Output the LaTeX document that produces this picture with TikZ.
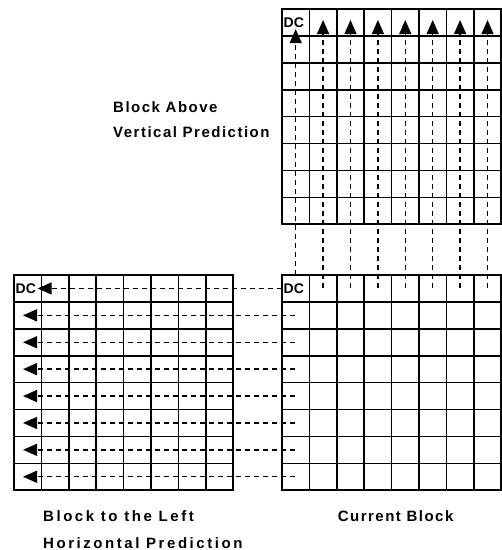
\documentclass[tikz,border=0pt]{standalone}
\usepackage{fontspec}
\setmainfont{Liberation Sans}
\newfontfamily\capfont{Liberation Sans}[LetterSpace=10]
\newfontfamily\widecapfont{Liberation Sans}[LetterSpace=17]
\usetikzlibrary{arrows.meta,calc,positioning}
\definecolor{InkBlack}{RGB}{0,0,0}

\begin{document}
\begin{tikzpicture}[x=1pt,y=-1pt,>={Triangle[length=14pt,width=12pt]},
  blockbox/.style={draw=InkBlack,line width=2pt,inner sep=0pt,outer sep=0pt,
    minimum width=219.2pt,minimum height=215.2pt,anchor=north west},
  cellline/.style={draw=InkBlack,line width=1.6pt},
  predline/.style={->,InkBlack,line width=1.4pt,dash pattern=on 5pt off 4pt},
  dclabel/.style={font=\bfseries\fontsize{14}{14}\selectfont,inner sep=1.5pt,anchor=west},
  caption/.style={font=\capfont\bfseries\fontsize{15}{25}\selectfont,align=left,inner sep=0pt}]
  \useasboundingbox (0,0) rectangle (502,550);
  % the three 8x8 blocks
  \foreach \bx/\by/\bn in {282/9/above,282/275/cur,14/275/left}{
    \node[blockbox] (\bn) at (\bx,\by) {};
    \foreach \i in {1,...,7}{
      \draw[cellline] ($(\bn.north west)+(\i*27.4,0)$) -- ($(\bn.south west)+(\i*27.4,0)$);
      \draw[cellline] ($(\bn.north west)+(0,\i*26.9)$) -- ($(\bn.north east)+(0,\i*26.9)$);
    }
  }
  \node[dclabel] (dcabove) at ($(above.north west)+(0,13.45)$) {DC};
  \node[dclabel] (dccur) at ($(cur.north west)+(0,13.45)$) {DC};
  \node[dclabel] (dcleft) at ($(left.north west)+(0,13.45)$) {DC};

  % vertical prediction
  \coordinate (vfoot0) at ($(cur.north west)+(13.7,0)$);
  \draw[predline] (vfoot0) -- (vfoot0 |- dcabove.south);
  \foreach \i in {1,...,7}{
    \coordinate (vfoot\i) at ($(cur.north west)+({(\i+0.5)*27.4},13)$);
    \coordinate (vtip\i) at ($(above.north west)+({(\i+0.5)*27.4},11)$);
    \draw[predline] (vfoot\i) -- (vtip\i);
  }
  % horizontal prediction
  \draw[predline] (dccur.west) -- (dcleft.east);
  \foreach \j in {1,...,7}{
    \coordinate (hfoot\j) at ($(cur.north west)+(13,{(\j+0.5)*26.9})$);
    \coordinate (htip\j) at ($(left.north west)+(9,{(\j+0.5)*26.9})$);
    \draw[predline] (hfoot\j) -- (htip\j);
  }

  \node[caption,anchor=north west] (abovecap) at (113,101) {Block Above\\Vertical Prediction};
  \node[caption,font=\widecapfont\bfseries\fontsize{15}{27}\selectfont,below right=20pt and 29pt of left.south west]
    (leftcap) {Block to the Left\\Horizontal Prediction};
  \node[caption,below=20pt of cur.south,xshift=4pt] (curcap) {Current Block};
\end{tikzpicture}
\end{document}
